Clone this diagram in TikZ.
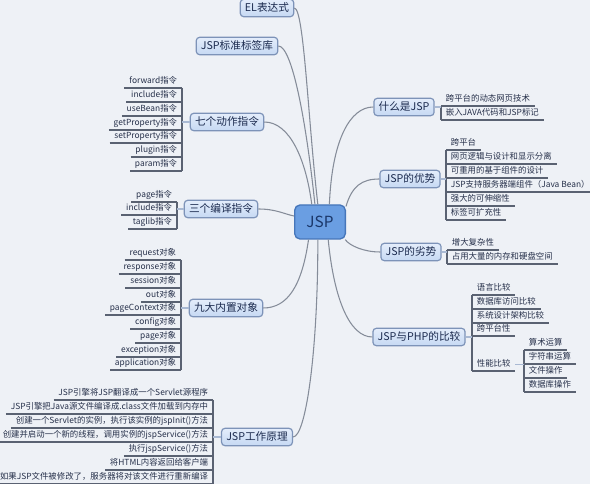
\documentclass[tikz,border=0pt]{standalone}
\usepackage{fontspec}
\setmainfont{Noto Sans CJK SC}

\definecolor{bgc}{HTML}{EEF1F6}
\definecolor{rootfill}{HTML}{6A9EE2}
\definecolor{rootdraw}{HTML}{4676BA}
\definecolor{roottext}{HTML}{1A3668}
\definecolor{topicdraw}{HTML}{7D93B8}
\definecolor{topictop}{HTML}{E4EDFB}
\definecolor{topicbot}{HTML}{C6D9F3}
\definecolor{topictext}{HTML}{1B2A4E}
\definecolor{leaftext}{HTML}{26304A}
\definecolor{linec}{HTML}{5A6272}
\definecolor{curvec}{HTML}{858C99}
\definecolor{stubc}{HTML}{A9B9D3}

\tikzset{every picture/.style={line width=0.75pt}}
\tikzset{
  root/.style={draw=rootdraw, fill=rootfill, rounded corners=4pt, line width=1pt, minimum width=38pt, minimum height=25.5pt, font=\fontsize{11.5}{13}\selectfont, text=roottext},
  topic/.style={draw=topicdraw, top color=topictop, bottom color=topicbot, rounded corners=2.5pt, line width=0.9pt, inner xsep=3.5pt, inner ysep=2.5pt, text height=6.5pt, text depth=1.5pt, font=\fontsize{8}{9}\selectfont, text=topictext},
  uline/.style={draw=linec, line width=0.8pt},
  leaf/.style={inner xsep=3.3pt, inner ysep=1.4pt, text height=5.1pt, text depth=1.3pt, font=\fontsize{6.3}{7.5}\selectfont, text=leaftext, append after command={(\tikzlastnode.south west) edge[uline] (\tikzlastnode.south east)}},
  leafl/.style={leaf, anchor=south east},
  leafr/.style={leaf, anchor=south west},
  branch/.style={draw=curvec, line width=0.8pt},
  stub/.style={draw=stubc, line width=0.8pt},
}

\begin{document}
\begin{tikzpicture}[x=0.75pt,y=0.75pt,yscale=-1,xscale=1]

\useasboundingbox (0,0) rectangle (590,484);
\fill [bgc] (0,0) rectangle (590,484);

% centre and main topics
\draw (320,222) node [root] (jsp) {JSP};
\draw (267,8) node [topic] (el) {EL表达式};
\draw (237,46) node [topic] (tag) {JSP标准标签库};
\draw (227,122) node [topic] (act) {七个动作指令};
\draw (221,209) node [topic] (comp) {三个编译指令};
\draw (226,308) node [topic] (obj) {九大内置对象};
\draw (257,437) node [topic] (work) {JSP工作原理};
\draw (404,107) node [topic] (what) {什么是JSP};
\draw (410,179) node [topic] (adv) {JSP的优势};
\draw (411,252) node [topic] (dis) {JSP的劣势};
\draw (419,337) node [topic] (cmp) {JSP与PHP的比较};

% curves to the centre
\draw [branch] (el.east) .. controls (304,8) and (308,120) .. (jsp.97);
\draw [branch] (tag.east) .. controls (292,46) and (306,120) .. (jsp.106);
\draw [branch] (act.east) .. controls (290,122) and (306,160) .. (jsp.115);
\draw [branch] (comp.east) .. controls (276,209) and (284,214) .. (jsp.167);
\draw [branch] (obj.east) .. controls (288,308) and (302,285) .. (jsp.-123);
\draw [branch] (work.east) .. controls (306,437) and (318,350) .. (jsp.-97);
\draw [branch] (what.west) .. controls (350,107) and (332,140) .. (jsp.62);
\draw [branch] (adv.west) .. controls (362,179) and (352,186) .. (jsp.31);
\draw [branch] (dis.west) .. controls (364,252) and (350,246) .. (jsp.-35);
\draw [branch] (cmp.west) .. controls (350,337) and (334,300) .. (jsp.-65);

% action directives
\draw (182,88) node [leafl] (a1) {forward指令};
\draw (182,102) node [leafl] (a2) {include指令};
\draw (182,116) node [leafl] (a3) {useBean指令};
\draw (182,130) node [leafl] (a4) {getProperty指令};
\draw (182,143) node [leafl] (a5) {setProperty指令};
\draw (182,157) node [leafl] (a6) {plugin指令};
\draw (182,171) node [leafl] (a7) {param指令};
\draw [uline] (a1.south east) -- (a7.south east);
\draw [stub] (act.west) -- (act.west -| a1.south east);

% compile directives
\draw (177,202) node [leafl] (c1) {page指令};
\draw (177,215) node [leafl] (c2) {include指令};
\draw (177,229) node [leafl] (c3) {taglib指令};
\draw [uline] (c1.south east) -- (c3.south east);
\draw [stub] (comp.west) -- (comp.west -| c1.south east);

% implicit objects
\draw (181,260) node [leafl] (o1) {request对象};
\draw (181,274) node [leafl] (o2) {response对象};
\draw (181,288) node [leafl] (o3) {session对象};
\draw (181,302) node [leafl] (o4) {out对象};
\draw (181,315) node [leafl] (o5) {pageContext对象};
\draw (181,329) node [leafl] (o6) {config对象};
\draw (181,343) node [leafl] (o7) {page对象};
\draw (181,357) node [leafl] (o8) {exception对象};
\draw (181,370) node [leafl] (o9) {application对象};
\draw [uline] (o1.south east) -- (o9.south east);
\draw [stub] (obj.west) -- (obj.west -| o1.south east);

% how it works
\draw (213,400) node [leafl] (w1) {JSP引擎将JSP翻译成一个Servlet源程序};
\draw (213,414) node [leafl] (w2) {JSP引擎把Java源文件编译成.class文件加载到内存中};
\draw (213,428) node [leafl] (w3) {创建一个Servlet的实例，执行该实例的jspInit()方法};
\draw (213,442) node [leafl] (w4) {创建并启动一个新的线程，调用实例的jspService()方法};
\draw (213,456) node [leafl] (w5) {执行jspService()方法};
\draw (213,470) node [leafl] (w6) {将HTML内容返回给客户端};
\draw (213,484) node [leafl] (w7) {如果JSP文件被修改了，服务器将对该文件进行重新编译};
\draw [uline] (w1.south east) -- (w7.south east);
\draw [stub] (work.west) -- (work.west -| w1.south east);

% what is JSP
\draw (441,106) node [leafr] (q1) {跨平台的动态网页技术};
\draw (441,120) node [leafr] (q2) {嵌入JAVA代码和JSP标记};
\draw [uline] (q1.south west) -- (q2.south west);
\draw [stub] (what.east) -- (what.east -| q1.south west);

% advantages
\draw (446,150) node [leafr] (v1) {跨平台};
\draw (446,164) node [leafr] (v2) {网页逻辑与设计和显示分离};
\draw (446,178) node [leafr] (v3) {可重用的基于组件的设计};
\draw (446,192) node [leafr] (v4) {JSP支持服务器端组件（Java Bean）};
\draw (446,206) node [leafr] (v5) {强大的可伸缩性};
\draw (446,220) node [leafr] (v6) {标签可扩充性};
\draw [uline] (v1.south west) -- (v6.south west);
\draw [stub] (adv.east) -- (adv.east -| v1.south west);

% disadvantages
\draw (447,250) node [leafr] (d1) {增大复杂性};
\draw (447,264) node [leafr] (d2) {占用大量的内存和硬盘空间};
\draw [uline] (d1.south west) -- (d2.south west);
\draw [stub] (dis.east) -- (dis.east -| d1.south west);

% JSP and PHP
\draw (472,295) node [leafr] (p1) {语言比较};
\draw (472,309) node [leafr] (p2) {数据库访问比较};
\draw (472,323) node [leafr] (p3) {系统设计架构比较};
\draw (472,336) node [leafr] (p4) {跨平台性};
\draw (472,371) node [leafr] (pf) {性能比较};
\draw [uline] (p1.south west) -- (pf.south west);
\draw [stub] (cmp.east) -- (cmp.east -| p1.south west);

\draw (524,350) node [leafr] (s1) {算术运算};
\draw (524,364) node [leafr] (s2) {字符串运算};
\draw (524,378) node [leafr] (s3) {文件操作};
\draw (524,392) node [leafr] (s4) {数据库操作};
\draw [uline] (s1.south west) -- (s4.south west);
\draw [stub] (pf.east) -- (pf.east -| s1.south west);

\end{tikzpicture}
\end{document}
